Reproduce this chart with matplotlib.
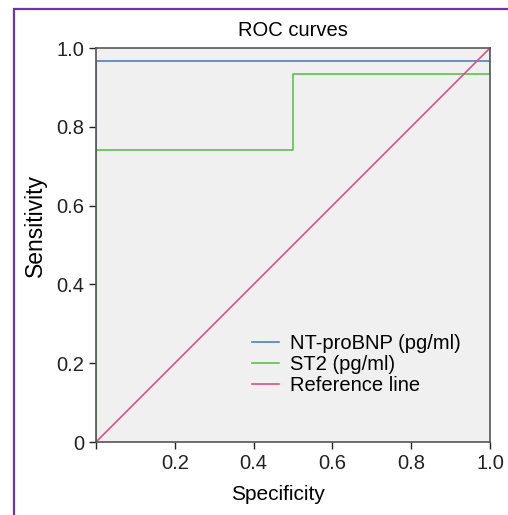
import matplotlib
matplotlib.use("Agg")
import matplotlib.pyplot as plt
from matplotlib.lines import Line2D

plt.rcParams["font.family"] = ["Liberation Sans", "DejaVu Sans"]

# ROC curve data (specificity axis as drawn, sensitivity)
nt_x = [0, 0, 1, 1]
nt_y = [0, 0.967, 0.967, 1.0]
st2_x = [0, 0, 0.5, 0.5, 1, 1]
st2_y = [0, 0.742, 0.742, 0.935, 0.935, 1.0]
ref_x = [0, 1]
ref_y = [0, 1]

x_ticks = [0, 0.2, 0.4, 0.6, 0.8, 1.0]
x_labels = ["", "0.2", "0.4", "0.6", "0.8", "1.0"]
y_ticks = [0, 0.2, 0.4, 0.6, 0.8, 1.0]
y_labels = ["0", "0.2", "0.4", "0.6", "0.8", "1.0"]

fig = plt.figure(figsize=(5.08, 5.15), dpi=100)
ax = fig.add_axes([96 / 508, 1 - 442 / 515, 394 / 508, 394 / 515])
ax.set_facecolor("#f0f0f0")

ax.plot(nt_x, nt_y, color="#4f7fc8", lw=1.2, label="NT-proBNP (pg/ml)")
ax.plot(st2_x, st2_y, color="#5cc04a", lw=1.2, label="ST2 (pg/ml)")
ax.plot(ref_x, ref_y, color="#d9508a", lw=1.2, label="Reference line")

ax.set_xlim(0, 1)
ax.set_ylim(0, 1)
ax.set_xticks(x_ticks)
ax.set_xticklabels(x_labels)
ax.set_yticks(y_ticks)
ax.set_yticklabels(y_labels)
ax.tick_params(labelsize=14.5, length=5, width=1, colors="#222222")
for side in ["top", "right", "left", "bottom"]:
    ax.spines[side].set_color("#555555")
    ax.spines[side].set_linewidth(1.2)

ax.set_title("ROC curves", fontsize=14.5, pad=9)
ax.set_xlabel("Specificity", fontsize=15)
ax.set_ylabel("Sensitivity", fontsize=16.5)
ax.xaxis.set_label_coords(0.461, -0.108)
ax.yaxis.set_label_coords(-0.125, 0.55)

ax.legend(loc="upper left", bbox_to_anchor=(0.395, 0.273), frameon=False,
          fontsize=14.5, handlelength=1.35, handletextpad=0.55, labelspacing=0.08,
          borderaxespad=0, borderpad=0)

# purple frame (only left and top edges show in the crop)
fx = 14 / 508
fy = 1 - 9 / 515
fig.add_artist(Line2D([fx, fx, 1.0], [0.0, fy, fy], transform=fig.transFigure,
                      color="#6b35a8", lw=1.6, solid_joinstyle="miter",
                      solid_capstyle="butt"))

fig.savefig("out.png", dpi=100)
